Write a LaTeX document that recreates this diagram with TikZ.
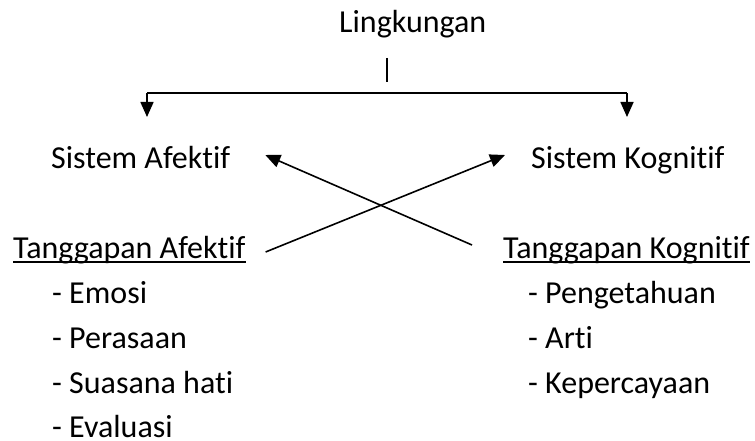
\documentclass[tikz,border=0pt]{standalone}
\usepackage{fontspec}
\setmainfont{Carlito}[RawFeature={-liga;-clig;-dlig}]
\usetikzlibrary{arrows.meta}

\begin{document}
\begin{tikzpicture}[x=1pt,y=-1pt,
  lbl/.style={inner sep=0pt, anchor=base west, font=\fontsize{32}{38}\selectfont},
  wire/.style={line width=1.6pt},
  arr/.style={wire, -{Triangle[length=15pt,width=13pt]}},
  uline/.style={line width=1.8pt}]
  \useasboundingbox[fill=white] (0,0) rectangle (755,441);

  % heading and the two systems
  \node[lbl] (lk) at (339,33) {Lingkungan};
  \node[lbl] (sa) at (51,168) {Sistem Afektif};
  \node[lbl] (sk) at (531,168) {Sistem Kognitif};

  % responses
  \node[lbl] (ta) at (13,258) {Tanggapan Afektif};
  \node[lbl] (tk) at (503,258) {Tanggapan Kognitif};
  \draw[uline] ([yshift=-4pt]ta.base west) -- ([yshift=-4pt]ta.base east);
  \draw[uline] ([yshift=-4pt]tk.base west) -- ([yshift=-4pt]tk.base east);

  % affective items
  \node[lbl] (a1) at (52,303) {- Emosi};
  \node[lbl] (a2) at (52,348) {- Perasaan};
  \node[lbl] (a3) at (52,393) {- Suasana hati};
  \node[lbl] (a4) at (52,437) {- Evaluasi};

  % cognitive items
  \node[lbl] (k1) at (528,303) {- Pengetahuan};
  \node[lbl] (k2) at (528,348) {- Arti};
  \node[lbl] (k3) at (528,393) {- Kepercayaan};

  % branching from the environment to both systems
  \coordinate (tickT) at (387,58);
  \coordinate (tickB) at (387,82);
  \coordinate (busL) at (147,93);
  \coordinate (busR) at (627,93);
  \draw[wire] (tickT) -- (tickB);
  \draw[wire] (busL) -- (busR);
  \draw[arr] (busL) -- ++(0,24);
  \draw[arr] (busR) -- ++(0,24);

  % crossed links between responses and systems
  \draw[arr] ([shift={(-31,-13)}]tk.base west) -- ([shift={(35,-13)}]sa.base east);
  \draw[arr] ([shift={(20,-6)}]ta.base east) -- ([shift={(-26,-13)}]sk.base west);
\end{tikzpicture}
\end{document}
